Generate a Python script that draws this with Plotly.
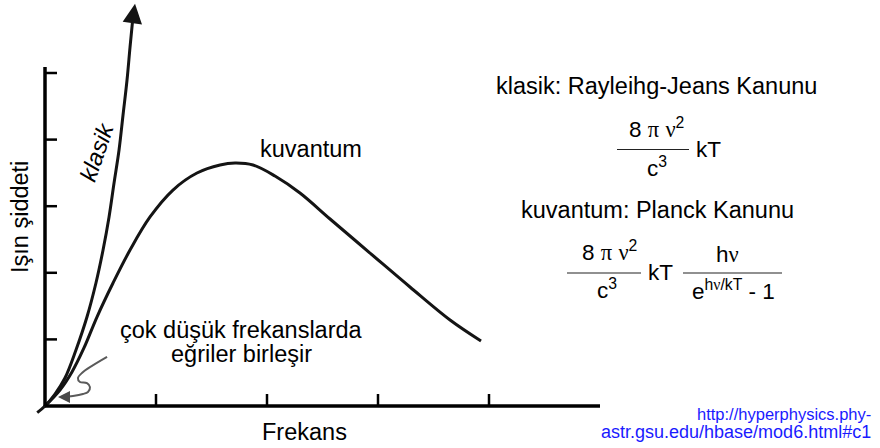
import plotly.graph_objects as go

# Classical (Rayleigh-Jeans) curve, read in axis units (frequency, intensity)
klasik_x = [-0.07, 0.0, 0.090, 0.180, 0.279, 0.378, 0.459, 0.523, 0.577, 0.622, 0.667, 0.703, 0.739, 0.766, 0.788]
klasik_y = [-0.10, 0.0, 0.180, 0.420, 0.841, 1.336, 1.847, 2.342, 2.838, 3.348, 3.844, 4.369, 4.895, 5.390, 5.766]
klasik_tip = (0.811, 6.04)

# Quantum (Planck) curve
kuvantum_x = [0.0, 0.135, 0.243, 0.351, 0.468, 0.613, 0.766, 0.946, 1.153, 1.369, 1.577, 1.712,
              1.874, 2.072, 2.297, 2.568, 2.928, 3.288, 3.649, 3.928]
kuvantum_y = [0.0, 0.240, 0.511, 0.871, 1.336, 1.847, 2.342, 2.838, 3.243, 3.498, 3.619, 3.649,
              3.619, 3.453, 3.198, 2.808, 2.297, 1.787, 1.291, 0.976]

# Axes extent and tick positions
x_axis_end = 5.0
y_axis_end = 5.09
x_ticks = [1, 2, 3, 4]
y_ticks = [1, 2, 3, 4, 5]

# Hand-drawn pointer towards the low-frequency region
pointer_x = [0.559, 0.333, 0.297, 0.315, 0.378, 0.405, 0.387, 0.342, 0.252, 0.162]
pointer_y = [0.736, 0.496, 0.420, 0.360, 0.345, 0.285, 0.210, 0.180, 0.150, 0.135]
pointer_tip = (0.117, 0.135)

W, H = 880, 448
X0, UX = 45, 111.0      # pixel of origin, pixels per frequency unit
Y0, UY = 406, 66.6      # pixel of origin, pixels per intensity unit

FONT = "Liberation Sans, Arial, Helvetica, sans-serif"


def px(x):
    return x / W


def py(y):
    return 1 - y / H


fig = go.Figure()

curve_line = dict(color="#141414", width=3, shape="spline", smoothing=1.0)
fig.add_trace(go.Scatter(x=klasik_x, y=klasik_y, mode="lines", line=curve_line,
                         hoverinfo="skip", showlegend=False))
fig.add_trace(go.Scatter(x=kuvantum_x, y=kuvantum_y, mode="lines", line=curve_line,
                         hoverinfo="skip", showlegend=False))
fig.add_trace(go.Scatter(
    x=pointer_x, y=pointer_y, mode="lines",
    line=dict(color="#5a5a5a", width=2, shape="spline", smoothing=1.0),
    hoverinfo="skip", showlegend=False))

shapes = []
# axis lines
shapes.append(dict(type="line", xref="x", yref="y", x0=0, y0=0, x1=x_axis_end, y1=0,
                   line=dict(color="black", width=3.5)))
shapes.append(dict(type="line", xref="x", yref="y", x0=0, y0=0, x1=0, y1=y_axis_end,
                   line=dict(color="black", width=3.5)))
# tick marks pointing into the plot
for t in x_ticks:
    shapes.append(dict(type="line", xref="x", yref="y", x0=t, y0=0, x1=t, y1=12 / UY,
                       line=dict(color="black", width=2.5)))
for t in y_ticks:
    shapes.append(dict(type="line", xref="x", yref="y", x0=0, y0=t, x1=12 / UX, y1=t,
                       line=dict(color="black", width=2.5)))
# fraction bars of the formulas
for (a, b, yy) in [(617, 689, 149.5), (567, 641, 273), (683, 782, 273)]:
    shapes.append(dict(type="line", xref="paper", yref="paper",
                       x0=px(a), x1=px(b), y0=py(yy), y1=py(yy),
                       line=dict(color="#222222", width=1.2)))

annotations = []


def label(text, x, y, size=23.5, color="black", angle=0, xanchor="center",
          yanchor="middle", style="normal"):
    annotations.append(dict(
        text=text, x=px(x), y=py(y), xref="paper", yref="paper",
        xanchor=xanchor, yanchor=yanchor, showarrow=False, textangle=angle,
        font=dict(family=FONT, size=size, color=color, style=style)))


# arrow head of the classical curve
annotations.append(dict(
    x=klasik_tip[0], y=klasik_tip[1], ax=klasik_x[-1], ay=klasik_y[-1],
    xref="x", yref="y", axref="x", ayref="y", text="", showarrow=True,
    arrowhead=2, arrowsize=1.3, arrowwidth=3, arrowcolor="#141414", standoff=0))
# arrow head of the pointer
annotations.append(dict(
    x=pointer_tip[0], y=pointer_tip[1], ax=pointer_x[-1], ay=pointer_y[-1],
    xref="x", yref="y", axref="x", ayref="y", text="", showarrow=True,
    arrowhead=2, arrowsize=1.2, arrowwidth=2, arrowcolor="#4a4a4a", standoff=0))

label("Işın şiddeti", 20, 217, angle=-90)
label("klasik", 97, 152, angle=-71, style="italic")
label("kuvantum", 311, 149)
label("çok düşük frekanslarda", 241, 330)
label("eğriler birleşir", 241, 354)
label("Frekans", 304, 432)

NU = '<span style="font-family:Liberation Serif">ν</span>'
PI = '<span style="font-family:Liberation Serif">π</span>'
FS = 22.5

label("klasik: Rayleihg-Jeans Kanunu", 656, 86)
label(f"8 {PI} {NU}<sup>2</sup>", 656, 128, size=FS)
label("c<sup>3</sup>", 657, 167, size=FS)
label("kT", 708, 149, size=FS)

label("kuvantum: Planck Kanunu", 657, 210)
label(f"8 {PI} {NU}<sup>2</sup>", 609, 251, size=FS)
label("c<sup>3</sup>", 607, 289, size=FS)
label("kT", 660, 272, size=FS)
label(f"h{NU}", 727, 254, size=FS)
label(f"e<sup>h{NU}/kT</sup> - 1", 733, 290, size=FS)

label("http://hyperphysics.phy-", 873, 414, size=16.5, color="#1a1aff", xanchor="right")
label("astr.gsu.edu/hbase/mod6.html#c1", 873, 432, size=18, color="#1a1aff", xanchor="right")

fig.update_layout(
    width=W, height=H,
    margin=dict(l=0, r=0, t=0, b=0),
    paper_bgcolor="white", plot_bgcolor="white",
    xaxis=dict(range=[-X0 / UX, (W - X0) / UX], visible=False, domain=[0, 1], fixedrange=True),
    yaxis=dict(range=[(Y0 - H) / UY, Y0 / UY], visible=False, domain=[0, 1], fixedrange=True),
    shapes=shapes, annotations=annotations, showlegend=False,
)

fig.write_html("out.html", config={"displayModeBar": False})
